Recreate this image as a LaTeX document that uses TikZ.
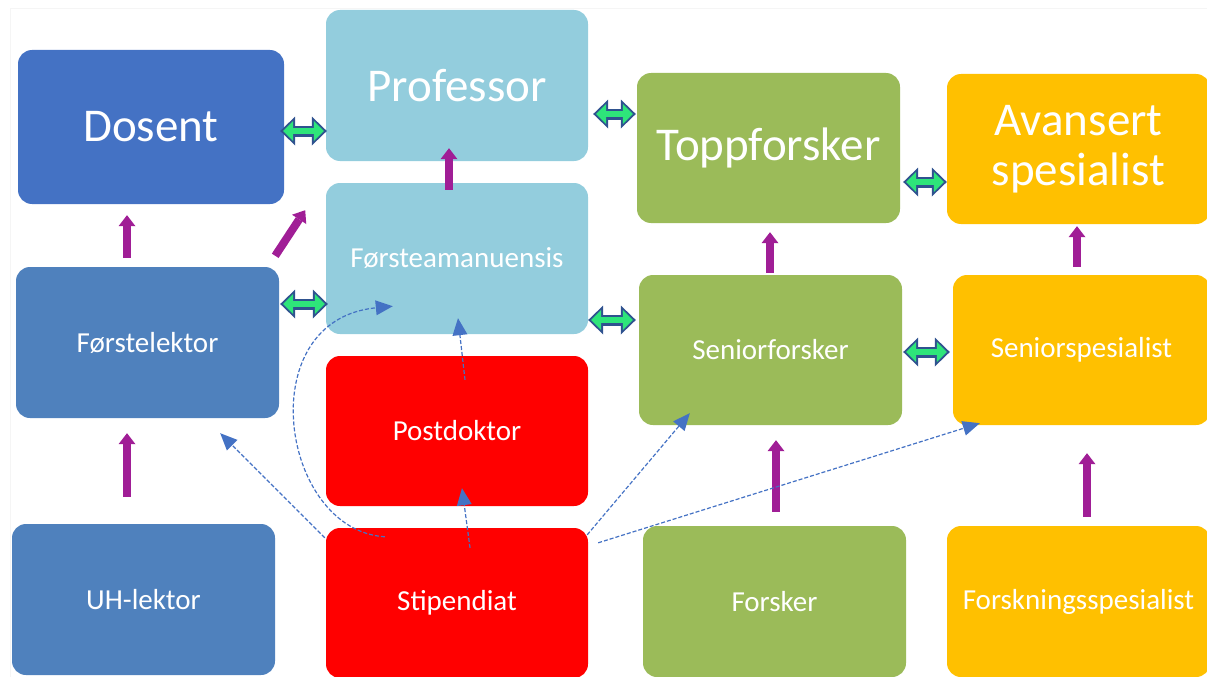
\documentclass[tikz,border=0pt]{standalone}
\usepackage{fontspec}
\setmainfont{Carlito}
\usetikzlibrary{arrows.meta}

\definecolor{dosentblue}{HTML}{4472C4}
\definecolor{lektorblue}{HTML}{4F81BD}
\definecolor{lightblue}{HTML}{93CDDD}
\definecolor{forskgreen}{HTML}{9BBB59}
\definecolor{spesgold}{HTML}{FFC000}
\definecolor{pilpurple}{RGB}{160,30,150}
\definecolor{linkgreen}{RGB}{46,229,122}
\definecolor{linkblue}{HTML}{2F528F}

\tikzset{
  box/.style={rounded corners=14pt, inner sep=0pt, text=white, align=center,
    font=\fontsize{29}{34}\selectfont},
  bigbox/.style={box, font=\fontsize{47}{50}\selectfont},
  upstep/.style={draw=pilpurple, line width=8pt,
    -{Triangle[length=11pt,width=17pt,line width=0pt]}},
  twoway/.style={draw=linkblue, line width=11pt,
    {Triangle[length=15pt,width=29pt,line width=0pt]}-{Triangle[length=15pt,width=29pt,line width=0pt]}},
  twowayin/.style={draw=linkgreen, line width=6pt,
    {Triangle[length=10pt,width=20pt,line width=0pt]}-{Triangle[length=10pt,width=20pt,line width=0pt]}},
  hint/.style={draw=dosentblue, line width=1.2pt, dash pattern=on 4pt off 2pt,
    -{Triangle[length=17pt,width=15pt,line width=0pt]}}
}

\begin{document}
\begin{tikzpicture}[x=1pt,y=-1pt]
\useasboundingbox (0,0) rectangle (1207,677);
\draw[gray!8] (10,677) |- (1207,8);

% universitet
\node[bigbox,fill=dosentblue,minimum width=266pt,minimum height=154pt] (dosent) at (151,127) {Dosent};
\node[box,fill=lektorblue,minimum width=263pt,minimum height=151pt] (flektor) at (147.5,342.5) {Førstelektor};
\node[box,fill=lektorblue,minimum width=263pt,minimum height=151pt] (uhlektor) at (143.5,599.5) {UH-lektor};
\node[bigbox,fill=lightblue,minimum width=262pt,minimum height=151pt] (prof) at (457,85.5) {Professor};
\node[box,fill=lightblue,minimum width=262pt,minimum height=151pt] (forsteam) at (457,258.5) {Førsteamanuensis};
\node[box,fill=red,minimum width=262pt,minimum height=150pt] (postdok) at (457,431) {Postdoktor};
\node[box,fill=red,minimum width=262pt,minimum height=150pt] (stip) at (457,603) {Stipendiat};
% forskning
\node[bigbox,fill=forskgreen,minimum width=263pt,minimum height=150pt] (topp) at (768.5,148) {Toppforsker};
\node[box,fill=forskgreen,minimum width=263pt,minimum height=150pt] (seniorf) at (770.5,350) {Seniorforsker};
\node[box,fill=forskgreen,minimum width=263pt,minimum height=151pt] (forsker) at (774.5,601.5) {Forsker};
\node[bigbox,fill=spesgold,minimum width=263pt,minimum height=150pt] (avansert) at (1078.5,149) {Avansert\\spesialist};
\node[box,fill=spesgold,minimum width=257pt,minimum height=150pt] (seniorspes) at (1081.5,350) {Seniorspesialist};
\node[box,fill=spesgold,minimum width=263pt,minimum height=151pt] (forskspes) at (1078.5,601.5) {Forskningsspesialist};

% opprykk
\foreach \a/\b/\x/\s/\e in {flektor/dosent/127/9/11, uhlektor/flektor/127/27/15,
    forsteam/prof/449/-7/-13, seniorf/topp/770/2/9, forsker/seniorf/776/14/15,
    seniorspes/avansert/1077/8/2, forskspes/seniorspes/1087/9/28}
  \draw[upstep, shorten <=\s pt, shorten >=\e pt] (\a.north -| \x,0) -- (\b.south -| \x,0);
\draw[upstep] ([shift={(-4,-11)}]flektor.north east) -- ([shift={(21,6)}]dosent.south east);

% likeverdige
\foreach \a/\b/\y/\s/\e [evaluate=\s as \si using \s+3, evaluate=\e as \ei using \e+3]
    in {dosent/prof/131/-4/-1, flektor/forsteam/304/1/-2, prof/topp/114/5/1,
    forsteam/seniorf/320/0/3, topp/avansert/182/3/0, seniorf/seniorspes/352/1/3}
{
  \draw[twoway, shorten <=\s pt, shorten >=\e pt] (\a.east |- 0,\y) -- (\b.west |- 0,\y);
  \draw[twowayin, shorten <=\si pt, shorten >=\ei pt] (\a.east |- 0,\y) -- (\b.west |- 0,\y);
}

% veier videre
\draw[hint] ([shift={(-1,10)}]stip.north west) -- ([shift={(-59,15)}]flektor.south east);
\draw[hint] ([shift={(13,20)}]stip.north) -- ([shift={(5,-18)}]postdok.south);
\draw[hint] ([shift={(8,24)}]postdok.north) -- ([shift={(1,-16)}]forsteam.south);
\draw[hint] ([shift={(59,9)}]stip.north west) .. controls (280,530) and (250,320) .. ([shift={(67,-28)}]forsteam.south west);
\draw[hint] ([shift={(-1,7)}]stip.north east) -- ([shift={(51,-12)}]seniorf.south west);
\draw[hint] ([shift={(10,15)}]stip.north east) -- ([shift={(27,-2)}]seniorspes.south west);
\end{tikzpicture}
\end{document}
